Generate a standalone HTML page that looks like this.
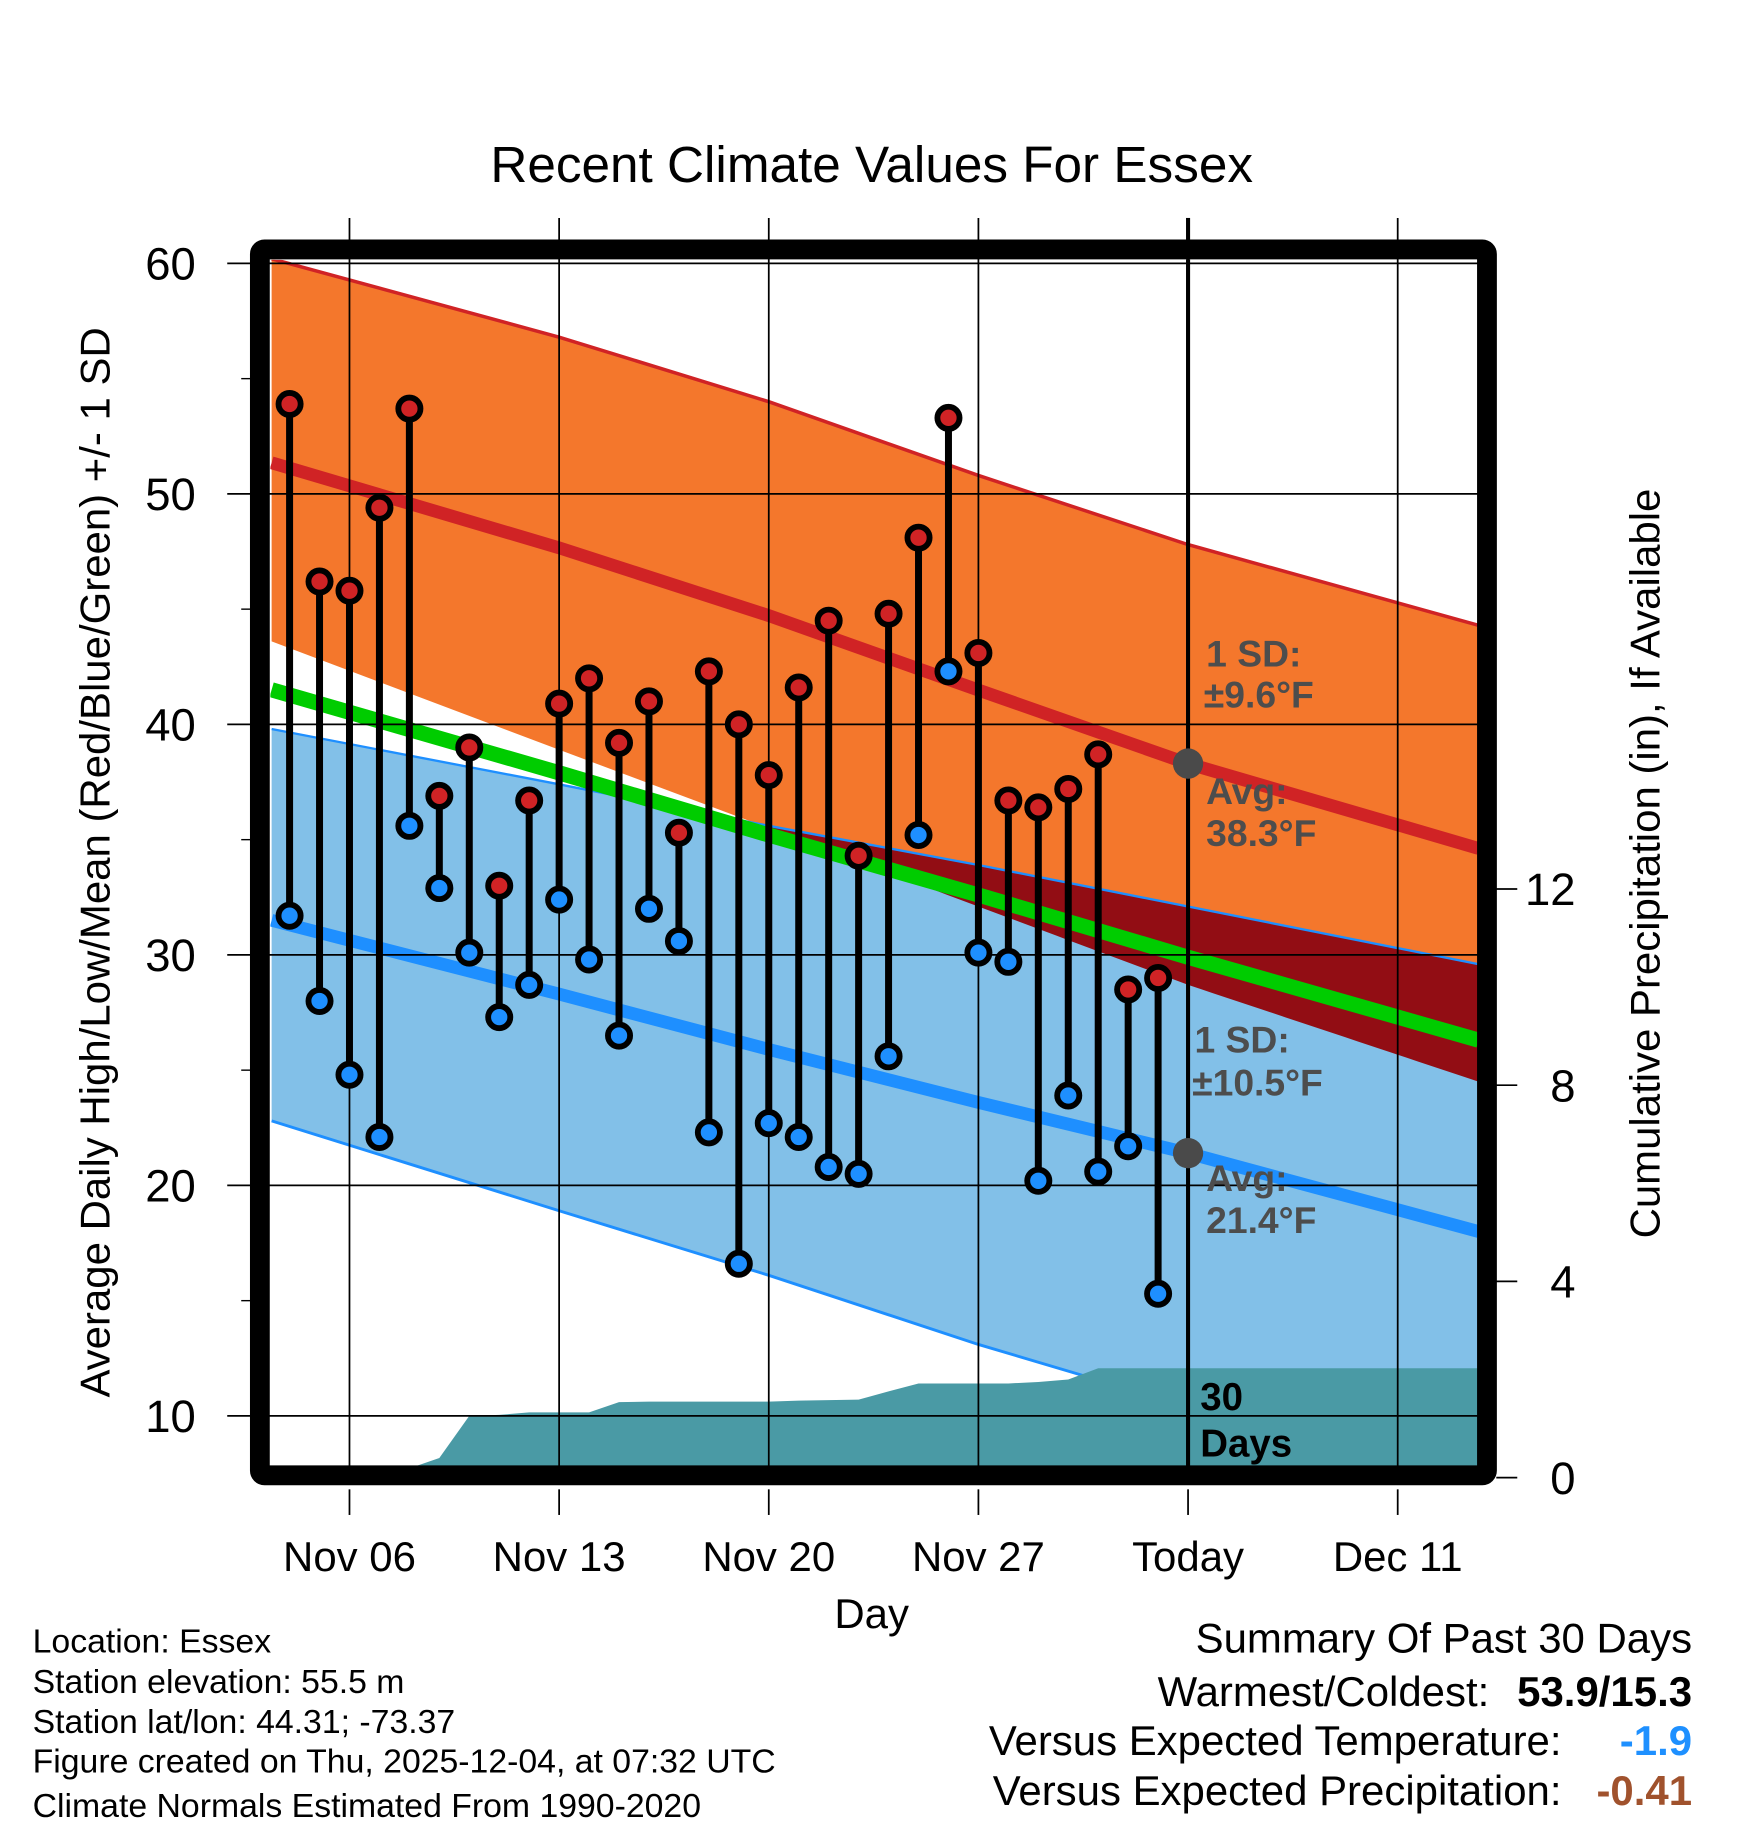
<!DOCTYPE html>
<html><head><meta charset="utf-8"><style>
html,body{margin:0;padding:0;background:#fff}
svg{display:block;font-family:"Liberation Sans",sans-serif}
</style></head><body>
<svg id="chart" width="1748" height="1828" viewBox="0 0 1500 1568.6" xmlns="http://www.w3.org/2000/svg">
<defs><clipPath id="plotclip"><rect x="232" y="223" width="1036" height="1035"/></clipPath></defs>
<g id="bands" clip-path="url(#plotclip)"></g>
<g id="grid"></g>
<g id="marks" clip-path="url(#plotclip)"></g>
<g id="axes"></g>
<text x="748" y="156" font-size="44" text-anchor="middle">Recent Climate Values For Essex</text>
<text transform="translate(94,740) rotate(-90)" font-size="36" text-anchor="middle">Average Daily High/Low/Mean (Red/Blue/Green) +/- 1 SD</text>
<text transform="translate(1424,741) rotate(-90)" font-size="36" text-anchor="middle">Cumulative Precipitation (in), If Available</text>
<text x="748" y="1397" font-size="36" text-anchor="middle">Day</text>
<g font-size="29">
<text x="28" y="1418">Location: Essex</text>
<text x="28" y="1453">Station elevation: 55.5 m</text>
<text x="28" y="1487">Station lat/lon: 44.31; -73.37</text>
<text x="28" y="1521">Figure created on Thu, 2025-12-04, at 07:32 UTC</text>
<text x="28" y="1559">Climate Normals Estimated From 1990-2020</text>
</g>
<g font-size="36">
<text x="1452" y="1418" text-anchor="end">Summary Of Past 30 Days</text>
<text x="1278" y="1464" text-anchor="end">Warmest/Coldest:</text>
<text x="1452" y="1464" text-anchor="end" font-weight="bold">53.9/15.3</text>
<text x="1340" y="1506" text-anchor="end">Versus Expected Temperature:</text>
<text x="1452" y="1506" text-anchor="end" font-weight="bold" fill="#1e90ff">-1.9</text>
<text x="1340" y="1549" text-anchor="end">Versus Expected Precipitation:</text>
<text x="1452" y="1549" text-anchor="end" font-weight="bold" fill="#a0522d">-0.41</text>
</g>
</svg>
<script>
// ---- data ----
const dayIndex = [0,1,2,3,4,5,6,7,8,9,10,11,12,13,14,15,16,17,18,19,20,21,22,23,24,25,26,27,28,29]; // Nov 4 .. Dec 3
const highs = [53.9,46.2,45.8,49.4,53.7,36.9,39.0,33.0,36.7,40.9,42.0,39.2,41.0,35.3,42.3,40.0,37.8,41.6,44.5,34.3,44.8,48.1,53.3,43.1,36.7,36.4,37.2,38.7,28.5,29.0];
const lows = [31.7,28.0,24.8,22.1,35.6,32.9,30.1,27.3,28.7,32.4,29.8,26.5,32.0,30.6,22.3,16.6,22.7,22.1,20.8,20.5,25.6,35.2,42.3,30.1,29.7,20.2,23.9,20.6,21.7,15.3];
const precipCum = [0.0,0.05,0.06,0.07,0.07,0.4,1.26,1.28,1.33,1.33,1.33,1.54,1.55,1.55,1.55,1.55,1.55,1.57,1.58,1.59,1.76,1.92,1.92,1.92,1.92,1.95,2.0,2.23,2.23,2.23];
const normDays = [-0.6,9,16,23,30,39.7];
const normHigh = [51.35,47.66,44.72,41.49,38.3,34.62];
const normHighUpper = [60.2,56.8,54.0,50.8,47.8,44.3];
const normHighLower = [43.6,38.9,35.5,32.1,28.7,24.5];
const normMean = [41.5,37.9,35.2,32.6,29.9,26.3];
const normLowUpper = [39.8,37.4,35.6,33.9,32.1,29.6];
const normLow = [31.5,28.3,25.9,23.6,21.4,18.0];
const normLowLower = [22.8,18.9,16.1,13.1,10.4,6.5];
const yTicks = [10,20,30,40,50,60];
const y2Ticks = [0,4,8,12];
const xTickDays = [2,9,16,23,30,37];
const xTickLabels = ["Nov 06","Nov 13","Nov 20","Nov 27","Today","Dec 11"];
// ---- scales ----
const X = d => 248.5 + d*25.7;           // day 0 = Nov 4
const Y = t => 226 + (60-t)*19.78;
const Y2 = p => 1268 - p*42.1;
const NS='http://www.w3.org/2000/svg';
function mk(tag, parent, attrs){const e=document.createElementNS(NS,tag);for(const k in attrs)e.setAttribute(k,attrs[k]);parent.appendChild(e);return e;}
const bands=document.getElementById('bands'), grid=document.getElementById('grid'), marks=document.getElementById('marks'), axes=document.getElementById('axes');
function pts(arr){return normDays.map((d,i)=>X(d)+','+Y(arr[i]));}
function band(up,lo){return pts(up).concat(pts(lo).reverse()).join(' ');}
let e;
e=mk('polygon',bands,{points:band(normHighUpper,normHighLower),fill:'#f4772c'});


e=mk('polygon',bands,{points:band(normLowUpper,normLowLower),fill:'#82c0e8'});


// overlap region (fine sampling)
const ovTop=[],ovBot=[];
function interp(arr,d){for(let i=0;i<normDays.length-1;i++){if(d<=normDays[i+1]){const f=(d-normDays[i])/(normDays[i+1]-normDays[i]);return arr[i]+f*(arr[i+1]-arr[i]);}}return arr[arr.length-1];}
const d0=normDays[0], d1=normDays[normDays.length-1], N=100;
for(let k=0;k<=N;k++){const d=d0+(d1-d0)*k/N;const u=interp(normLowUpper,d),l=Math.min(interp(normHighLower,d),u);ovTop.push(X(d)+','+Y(u));ovBot.push(X(d)+','+Y(l));}
e=mk('polygon',bands,{points:ovTop.concat(ovBot.reverse()).join(' '),fill:'#920d14'});


function line(arr,col,w,name){const l=mk('polyline',bands,{points:pts(arr).join(' '),fill:'none',stroke:col,'stroke-width':w});

}
line(normHighUpper,'#d02325',3,'high-upper-sd-line');
line(normLowUpper,'#1e8fff',2,'low-upper-sd-line');
line(normLowLower,'#1e8fff',2.5,'low-lower-sd-line');
line(normMean,'#00cc00',13,'mean-line');
line(normHigh,'#d02325',11,'avg-high-line');
line(normLow,'#1e8fff',11,'avg-low-line');
// precip area
let pp=[[232,1260]];
dayIndex.forEach((d,i)=>pp.push([X(d),Math.min(1260,Y2(precipCum[i]))]));
pp.push([1268,Math.min(1260,Y2(precipCum[precipCum.length-1]))]);pp.push([1268,1260]);
e=mk('polygon',bands,{points:pp.map(p=>p.join(',')).join(' '),fill:'#4a9aa5'});


// grid
yTicks.forEach(t=>{const g=mk('line',grid,{x1:195,x2:1268,y1:Y(t),y2:Y(t),stroke:'#000','stroke-width':1.5});


const tx=mk('text',axes,{x:168,y:Y(t)+14,'font-size':39,'text-anchor':'end'});tx.textContent=t;

});
[15,25,35,45,55].forEach(t=>{mk('line',axes,{x1:207,x2:218,y1:Y(t),y2:Y(t),stroke:'#000','stroke-width':1.2});});
xTickDays.forEach((d,i)=>{const g=mk('line',grid,{x1:X(d),x2:X(d),y1:187,y2:1258,stroke:'#000','stroke-width':1.5});


mk('line',axes,{x1:X(d),x2:X(d),y1:1278,y2:1300,stroke:'#000','stroke-width':1.5});
const tx=mk('text',axes,{x:X(d),y:1348,'font-size':36,'text-anchor':'middle'});tx.textContent=xTickLabels[i];

});
y2Ticks.forEach(p=>{mk('line',axes,{x1:1284,x2:1302,y1:Y2(p),y2:Y2(p),stroke:'#000','stroke-width':1.5});
const tx=mk('text',axes,{x:1352,y:Y2(p)+14,'font-size':39,'text-anchor':'end'});tx.textContent=p;

});
// today line
e=mk('line',marks,{x1:X(30),x2:X(30),y1:187,y2:1258,stroke:'#000','stroke-width':3.5});


mk('line',axes,{x1:X(30),x2:X(30),y1:187,y2:223,stroke:'#000','stroke-width':3.5});
// stems & points
dayIndex.forEach((d,i)=>{
 const s=mk('line',marks,{x1:X(d),x2:X(d),y1:Y(highs[i]),y2:Y(lows[i]),stroke:'#000','stroke-width':6});
 
 
});
dayIndex.forEach((d,i)=>{
 const h=mk('circle',marks,{cx:X(d),cy:Y(highs[i]),r:9.5,fill:'#d02325',stroke:'#000','stroke-width':5});
 
 
 const l=mk('circle',marks,{cx:X(d),cy:Y(lows[i]),r:9.5,fill:'#1e8fff',stroke:'#000','stroke-width':5});
 
 
});
// today dots
[[normHigh[4],'avg-high-today-dot'],[normLow[4],'avg-low-today-dot']].forEach(a=>{const c=mk('circle',marks,{cx:X(30),cy:Y(a[0]),r:13,fill:'#4a4a4a'});

});
// annotations
const ann=[[1035,572,'1 SD:'],[1033,607,'±9.6°F'],[1035,690,'Avg:'],[1035,726,'38.3°F'],[1025,903,'1 SD:'],[1023,940,'±10.5°F'],[1035,1022,'Avg:'],[1035,1058,'21.4°F']];
ann.forEach(a=>{const t=mk('text',marks,{x:a[0],y:a[1],'font-size':32,'font-weight':'bold',fill:'#4d4d4d'});t.textContent=a[2];

});
[[1030,1210,'30'],[1030,1250,'Days']].forEach(a=>{const t=mk('text',marks,{x:a[0],y:a[1],'font-size':33,'font-weight':'bold',fill:'#000'});t.textContent=a[2];

});
// frame
e=mk('rect',axes,{x:223,y:214,width:1053,height:1052,fill:'none',stroke:'#000','stroke-width':17,rx:4});


</script>
</body></html>
